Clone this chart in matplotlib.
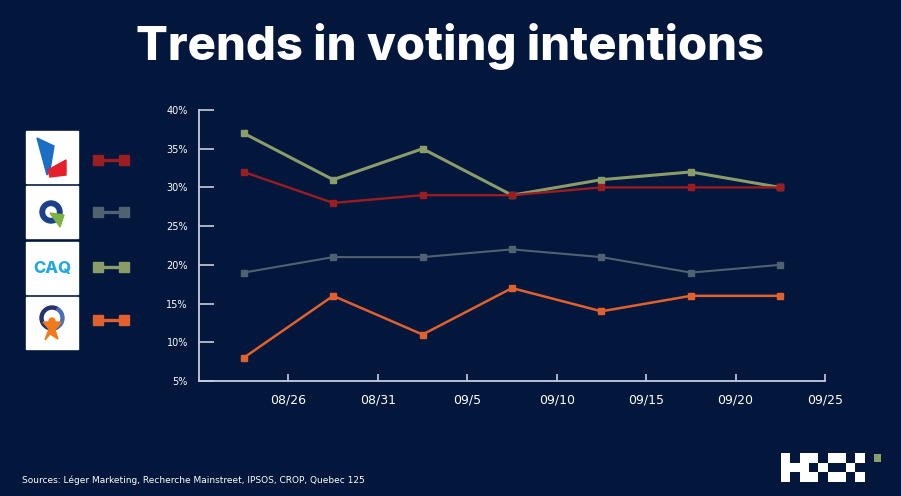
## Trends in voting intentions - Quebec 2022
import pandas as pd
import numpy as np
import matplotlib.pyplot as plt
from matplotlib.patches import Rectangle, Polygon, Circle, Wedge
from matplotlib.lines import Line2D

# data
tanggal = ["2022-08-23 12:00", "2022-08-28 12:00", "2022-09-02 12:00", "2022-09-07 12:00",
           "2022-09-12 12:00", "2022-09-17 12:00", "2022-09-22 12:00"]
plq = [32, 28, 29, 29, 30, 30, 30]
pq = [19, 21, 21, 22, 21, 19, 20]
caq = [37, 31, 35, 29, 31, 32, 30]
qs = [8, 16, 11, 17, 14, 16, 16]
tick_tanggal = ["2022-08-26", "2022-08-31", "2022-09-05", "2022-09-10",
                "2022-09-15", "2022-09-20", "2022-09-25"]
tick_label = ["08/26", "08/31", "09/5", "09/10", "09/15", "09/20", "09/25"]

bg = "#02173b"
garis = "#c5cde0"
warna = {"plq": "#9a1d22", "pq": "#4e6272", "caq": "#8b9c6b", "qs": "#e0612e"}

x = pd.to_datetime(tanggal)

fig = plt.figure(figsize=(9.01, 4.96), dpi=100)
fig.patch.set_facecolor(bg)

ax = fig.add_axes([199/901, 1-381/496, 626/901, 271/496])
ax.set_facecolor(bg)

ax.plot(x, caq, color=warna["caq"], lw=2.2, marker="s", ms=4.5, zorder=3)
ax.plot(x, plq, color=warna["plq"], lw=1.7, marker="s", ms=4.5, zorder=4)
ax.plot(x, pq, color=warna["pq"], lw=1.5, marker="s", ms=4.5, zorder=3)
ax.plot(x, qs, color=warna["qs"], lw=1.8, marker="s", ms=4.5, zorder=3)

ax.set_xlim(pd.Timestamp("2022-08-21"), pd.Timestamp("2022-09-25"))
ax.set_ylim(5, 40)
ax.set_yticks(range(5, 41, 5))
ax.set_yticklabels([f"{v}%" for v in range(5, 41, 5)])
ax.set_xticks(pd.to_datetime(tick_tanggal))
ax.set_xticklabels(tick_label)

for s in ["top", "right"]:
    ax.spines[s].set_visible(False)
for s in ["left", "bottom"]:
    ax.spines[s].set_color(garis)
    ax.spines[s].set_linewidth(1.3)
ax.tick_params(axis="y", direction="in", length=11, width=1.2, color=garis,
               labelcolor="white", labelsize=7, pad=8)
ax.tick_params(axis="x", direction="in", length=5, width=1.2, color=garis,
               labelcolor="white", labelsize=9, pad=9)

# judul & sumber
fig.text(0.5, 1-46/496, "Trends in voting intentions", ha="center", va="center",
         color="white", fontsize=34, fontweight="heavy", family="Inter")
fig.text(22/901, 1-480/496, "Sources: Léger Marketing, Recherche Mainstreet, IPSOS, CROP, Quebec 125",
         ha="left", va="center", color="white", fontsize=6.5)

# overlay buat hiasan (logo partai, legenda, logo bawah)
ov = fig.add_axes([0, 0, 1, 1], zorder=-1)
ov.set_xlim(0, 901)
ov.set_ylim(496, 0)
ov.axis("off")
ov.patch.set_alpha(0)

kotak_y = [131, 186, 242, 297]
for ky in kotak_y:
    ov.add_patch(Rectangle((26, ky), 52, 52, color="white"))

# logo PLQ
ov.add_patch(Polygon([[37, 138], [54, 146], [50, 170], [47, 175]], color="#1a6fc4"))
ov.add_patch(Polygon([[48, 170], [66, 160], [66, 175], [50, 177]], color="#e4202c"))
# logo PQ
ov.add_patch(Wedge((51, 212), 11, 0, 360, width=4.5, color="#1b3f8b"))
ov.add_patch(Polygon([[50, 213], [64, 215], [60, 227]], color="#7cb342"))
# logo CAQ
ov.text(52, 268, "CAQ", ha="center", va="center", color="#22a9e0", fontsize=12,
        fontweight="heavy", family="Inter")
# logo QS
ov.add_patch(Wedge((52, 318), 12, 60, 300, width=3, color="#26316e"))
ov.add_patch(Wedge((52, 318), 12, 300, 420, width=3, color="#4a6fb5"))
ov.add_patch(Circle((52, 321), 3, color="#f07a1a"))
ov.add_patch(Polygon([[43, 322], [61, 322], [55, 330], [58, 339], [50, 334], [45, 340], [49, 329]],
                     color="#f07a1a"))

leg_y = [160, 212, 267, 320]
for ly, k in zip(leg_y, ["plq", "pq", "caq", "qs"]):
    ov.add_line(Line2D([98, 124], [ly, ly], color=warna[k], lw=2.4, marker="s", ms=6.5))

# logo pojok kanan bawah
pola = ["101101101",
        "111010010",
        "101101101"]
for r, baris in enumerate(pola):
    for c, v in enumerate(baris):
        if v == "1":
            ov.add_patch(Rectangle((781 + c * 9.3, 453 + r * 9.7), 9.3, 9.7, color="white", lw=0))
ov.add_patch(Rectangle((874, 454), 7, 8, color="#8b9c6b", lw=0))

plt.savefig("out.png", dpi=100, facecolor=bg)
